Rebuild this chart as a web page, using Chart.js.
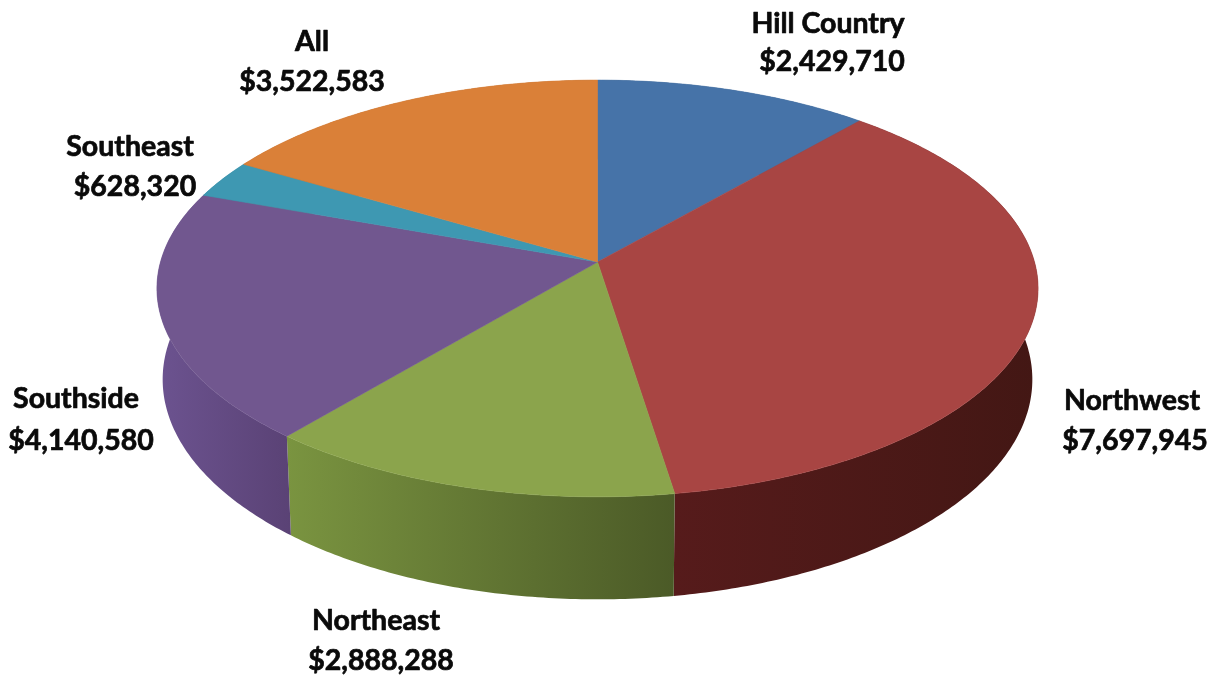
<!DOCTYPE html>
<html>
<head>
<meta charset="utf-8">
<style>html,body{margin:0;padding:0;background:#fff}canvas{display:block}</style>
<script src="https://cdn.jsdelivr.net/npm/chart.js@4"></script>
</head>
<body>
<canvas id="c" width="1217" height="679"></canvas>
<script>
const categories = ['Hill Country', 'Northwest', 'Northeast', 'Southside', 'Southeast', 'All'];
const amounts = [2429710, 7697945, 2888288, 4140580, 628320, 3522583];
const topColors = ['#4673a8', '#a84543', '#8ba44c', '#71578f', '#3e98b2', '#da8038'];
const wallLeftColors = ['#35567f', '#561b1b', '#7a9440', '#6c5390', '#2e7286', '#a4602a'];
const wallRightColors = ['#35567f', '#431714', '#4b5a27', '#5a4275', '#2e7286', '#a4602a'];
// [centre x of name, y of name, centre x of amount, y of amount]
const labelSpots = [[828, 24, 832, 62], [1132, 401, 1135, 441], [376, 621, 381, 661],
                    [76, 399, 81, 441], [130, 147, 135, 187], [312, 42, 312, 82]];

// Perspective view of the flat disc
const view = {cx: 597.5, cy: 262, rx: 437, ry: 205, k: 0.127, depth: 89.5, shrink: 0.987};
function project(a, lower) {
  const u = Math.cos(a), v = Math.sin(a), w = 1 - view.k * v;
  const s = lower ? view.shrink : 1;
  return [view.cx + s * view.rx * u / w,
          view.cy + view.ry * v / w + (lower ? view.depth / w : 0)];
}
function arcSteps(a0, a1) { return Math.max(2, Math.ceil(Math.abs(a1 - a0) * 90)); }

const pie3d = {
  id: 'pie3d',
  beforeDatasetDraw(chart, args) {
    const ctx = chart.ctx, arcs = chart.getDatasetMeta(args.index).data;
    // walls
    arcs.forEach((arc, i) => {
      const a0 = arc.startAngle, a1 = arc.endAngle, n = arcSteps(a0, a1);
      const top = [], bottom = [];
      for (let j = 0; j <= n; j++) {
        const a = a0 + (a1 - a0) * j / n;
        top.push(project(a, false));
        bottom.push(project(a, true));
      }
      const all = top.concat(bottom), xs = all.map(p => p[0]);
      const g = ctx.createLinearGradient(Math.min(...xs), 0, Math.max(...xs), 0);
      g.addColorStop(0, wallLeftColors[i]);
      g.addColorStop(1, wallRightColors[i]);
      ctx.beginPath();
      top.forEach((p, j) => j ? ctx.lineTo(p[0], p[1]) : ctx.moveTo(p[0], p[1]));
      bottom.reverse().forEach(p => ctx.lineTo(p[0], p[1]));
      ctx.closePath();
      ctx.fillStyle = g;
      ctx.fill();
    });
    // top faces
    arcs.forEach(arc => {
      const a0 = arc.startAngle, a1 = arc.endAngle, n = arcSteps(a0, a1);
      ctx.beginPath();
      ctx.moveTo(view.cx, view.cy);
      for (let j = 0; j <= n; j++) {
        const p = project(a0 + (a1 - a0) * j / n, false);
        ctx.lineTo(p[0], p[1]);
      }
      ctx.closePath();
      ctx.fillStyle = arc.options.backgroundColor;
      ctx.strokeStyle = arc.options.backgroundColor;
      ctx.lineWidth = 0.6;
      ctx.fill();
      ctx.stroke();
    });
    return false; // the flat default arcs are replaced by the projected ones
  },
  afterDatasetsDraw(chart) {
    const ctx = chart.ctx;
    ctx.save();
    ctx.fillStyle = '#0a0a0a';
    ctx.strokeStyle = '#0a0a0a';
    ctx.lineWidth = 0.7;
    ctx.lineJoin = 'round';
    ctx.font = 'bold 28.5px Lato';
    ctx.textAlign = 'center';
    ctx.textBaseline = 'middle';
    categories.forEach((name, i) => {
      const s = labelSpots[i], amount = '$' + amounts[i].toLocaleString('en-US');
      ctx.fillText(name, s[0], s[1]);
      ctx.strokeText(name, s[0], s[1]);
      ctx.fillText(amount, s[2], s[3]);
      ctx.strokeText(amount, s[2], s[3]);
    });
    ctx.restore();
  }
};

new Chart(document.getElementById('c'), {
  type: 'pie',
  data: {labels: categories, datasets: [{data: amounts, backgroundColor: topColors, borderWidth: 0}]},
  options: {
    responsive: false,
    animation: false,
    plugins: {legend: {display: false}, tooltip: {enabled: false}}
  },
  plugins: [pie3d]
});
</script>
</body>
</html>
